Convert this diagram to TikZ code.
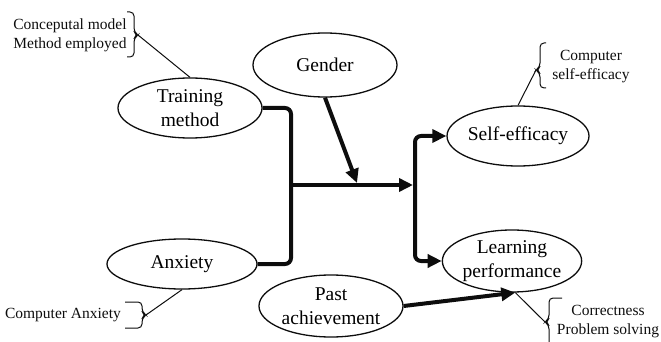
\documentclass[tikz,border=0pt]{standalone}
\usepackage{fontspec}
\setmainfont{Liberation Serif}
\usepackage{tikz}
\usetikzlibrary{arrows.meta, calc, positioning, shapes.geometric}
\usepackage{xcolor}
\definecolor{Ink}{gray}{0.05}
\tikzset{%
  factor/.style={%
    ellipse,%
    draw=Ink,%
    line width=1.3pt,%
    inner sep=0pt,%
    minimum width=144pt,%
    minimum height=60pt,%
    font={\fontsize{19.5}{24}\selectfont},%
    align=center%
  },
  note/.style={%
    inner sep=0pt,%
    color=Ink,%
    font={\fontsize{15.5}{19}\selectfont},%
    align=center%
  },
  note_bracket/.style={%
    draw=Ink,%
    line width=1pt,%
    rounded corners=4pt%
  },
  note_link/.style={%
    draw=Ink,%
    line width=1pt%
  },
  flow_path/.style={%
    draw=Ink,%
    line width=4pt,%
    line join=round,%
    rounded corners=6pt%
  },
  arrow/.style={-{Triangle[length=14pt, width=13pt]}},
}
\begin{document}
\begin{tikzpicture}[x=1pt, y=-1pt]
    \useasboundingbox (0,0) rectangle (661,342);

    \node [factor] (Train) at (190,108) {Training\\method};
    \node [factor, minimum height=64pt] (Gender) at (325,65) {Gender};
    \node [factor, minimum width=142pt] (Self) at (518,136) {Self-efficacy};
    \node [factor, minimum width=136pt, minimum height=62pt] (Learn)
      at (512,261) {Learning\\performance};
    \node [factor, minimum width=150pt, minimum height=50pt] (Anx)
      at (182,264) {Anxiety};
    \node [factor, minimum height=62pt] (Past)
      at (331,306) {Past\\achievement};

    \node [note, align=left] (ModelNote) at (70,35)
      {Conceputal model\\Method employed};
    \node [note] (SelfNote) at (591,67) {Computer\\self-efficacy};
    \node [note] (AnxNote) at (63,315) {Computer Anxiety};
    \node [note] (LearnNote) at (608,322) {Correctness\\Problem solving};

    % brackets beside the notes
    \draw [note_bracket]
      (127,12) -- (134,12) -- (134,32) -- (138,35) -- (134,38) -- (134,57)
      -- (127,57);
    \draw [note_bracket]
      (546,43) -- (540,43) -- (540,67) -- (536,70) -- (540,73) -- (540,88)
      -- (546,88);
    \draw [note_bracket]
      (125,302) -- (142,302) -- (142,312) -- (146,315) -- (142,318)
      -- (142,328) -- (125,328);
    \draw [note_bracket]
      (562,298) -- (549,298) -- (549,319) -- (545,322) -- (549,325)
      -- (549,352);
    \coordinate (ModelTip) at (138,35);
    \coordinate (SelfTip) at (536,70);
    \coordinate (AnxTip) at (146,315);
    \coordinate (LearnTip) at (545,322);

    \draw [note_link] (ModelTip) -- (Train.north);
    \draw [note_link] (SelfTip) -- (Self.north);
    \draw [note_link] (AnxTip) -- (Anx.south);
    \draw [note_link] (LearnTip) -- (Learn.-84);

    \coordinate (Join) at (291,185);
    \coordinate (Split) at (415,185);
    \coordinate (GenderTip) at (357,183);

    \draw [flow_path]
      (Train.east)
      -|
      (Join);
    \draw [flow_path]
      (Anx.east)
      -|
      (Join);
    \draw [arrow, flow_path]
      (Join)
      --
      ([xshift=-2pt]Split);
    \draw [arrow, flow_path]
      (Split)
      |-
      (Self.west);
    \draw [arrow, flow_path]
      (Split)
      |-
      (Learn.west);
    \draw [arrow, flow_path]
      (Gender.south)
      --
      (GenderTip);
    \draw [arrow, flow_path]
      (Past.east)
      --
      (Learn.-84);
  \end{tikzpicture}
\end{document}
